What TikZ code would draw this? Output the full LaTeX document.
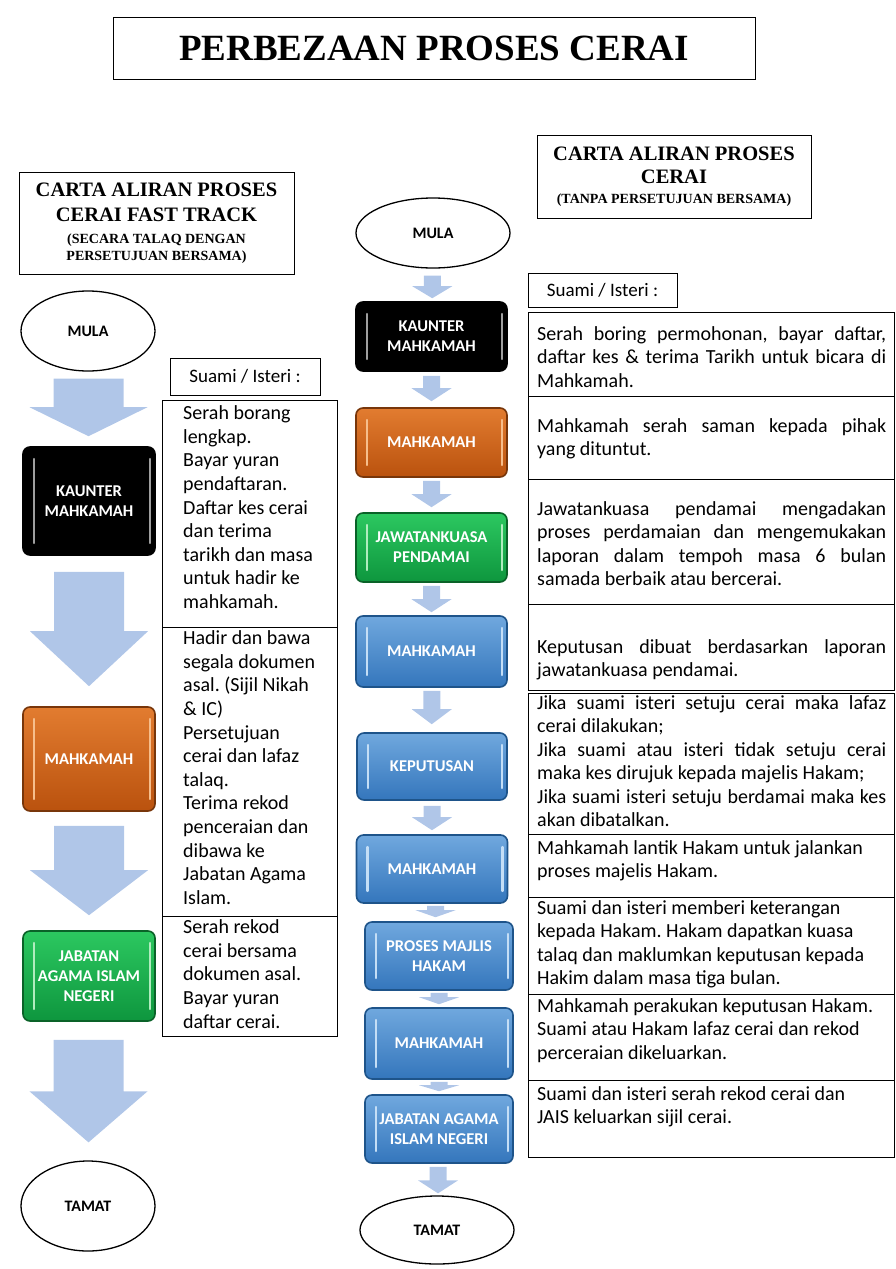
\documentclass[tikz,border=0pt]{standalone}
\usepackage{fontspec}
\setmainfont{Carlito}
\newfontfamily\titlefont{Liberation Serif}
\usetikzlibrary{calc,shapes.geometric}
\frenchspacing

\definecolor{arrowblue}{RGB}{176,198,232}
\definecolor{orangetop}{RGB}{226,124,48}
\definecolor{orangebot}{RGB}{186,82,14}
\definecolor{orangeedge}{RGB}{120,54,10}
\definecolor{orangerim}{RGB}{246,190,140}
\definecolor{greentop}{RGB}{44,200,96}
\definecolor{greenbot}{RGB}{14,150,62}
\definecolor{greenedge}{RGB}{10,98,40}
\definecolor{greenrim}{RGB}{176,236,190}
\definecolor{bluetop}{RGB}{112,168,222}
\definecolor{bluebot}{RGB}{52,118,188}
\definecolor{blueedge}{RGB}{30,84,138}
\definecolor{bluerim}{RGB}{196,222,246}

% block arrow between two nodes: from, to, gap below, gap above, half shaft, half head, head length
\newcommand{\blockarrow}[7]{%
  \fill[flowarrow] let \p1=([yshift=-#3]#1.south), \p2=([yshift=#4]#2.north),
    \p3=($(\p1)!0.5!(\p2)$) in
    (\x3-#5,\y1) -- (\x3+#5,\y1) -- (\x3+#5,\y2+#7) -- (\x3+#6,\y2+#7)
    -- (\x3,\y2) -- (\x3-#6,\y2+#7) -- (\x3-#5,\y2+#7) -- cycle;}

\begin{document}
\begin{tikzpicture}[x=1pt, y=-1pt,
  frame/.style={draw, line width=1pt, inner sep=0pt},
  headbox/.style={frame, align=center, font=\titlefont\bfseries\fontsize{20.5}{24}\selectfont},
  terminal/.style={draw, ellipse, line width=1.3pt, fill=white, inner sep=0pt,
    font=\bfseries\fontsize{16}{18}\selectfont},
  procbox/.style 2 args={rounded corners=7pt, line width=1.6pt, inner sep=0pt,
    minimum width=#1, minimum height=#2, text=white, align=center,
    font=\bfseries\fontsize{16.5}{20}\selectfont},
  rim/.style={path picture={
    \draw[#1, line width=2.2pt, line cap=round]
      ([xshift=11pt,yshift=-12pt]path picture bounding box.north west)
      -- ([xshift=11pt,yshift=12pt]path picture bounding box.south west);
    \draw[#1, line width=2.2pt, line cap=round]
      ([xshift=-5pt,yshift=-12pt]path picture bounding box.north east)
      -- ([xshift=-5pt,yshift=12pt]path picture bounding box.south east);}},
  blackbox/.style={fill=black, draw=black, rim=gray!75},
  orangebox/.style={top color=orangetop, bottom color=orangebot, draw=orangeedge, rim=orangerim},
  greenbox/.style={top color=greentop, bottom color=greenbot, draw=greenedge, rim=greenrim},
  bluebox/.style={top color=bluetop, bottom color=bluebot, draw=blueedge, rim=bluerim},
  flowarrow/.style={fill=arrowblue},
  labelbox/.style={frame, font=\fontsize{19}{22}\selectfont},
  bodytext/.style={inner sep=0pt, anchor=north west, font=\fontsize{20}{23.5}\selectfont,
    execute at begin node={\parindent=0pt\strut}},
  lefttext/.style={bodytext, text width=152pt, align=flush left, font=\fontsize{20}{23.6}\selectfont},
  righttext/.style={bodytext, text width=349pt}]
\useasboundingbox (0,0) rectangle (896,1269);

% title
\node[frame, minimum width=642pt, minimum height=62pt,
  font=\titlefont\bfseries\fontsize{37}{40}\selectfont] (title) at (434,48) {PERBEZAAN PROSES CERAI};

% chart headings
\node[headbox, minimum width=275pt, minimum height=102pt] (lhead) at (156.5,223)
  {CARTA ALIRAN PROSES\\[1pt]CERAI FAST TRACK\\[-2pt]{\fontsize{14}{16}\selectfont(SECARA TALAQ DENGAN}\\[-7pt]{\fontsize{14}{16}\selectfont PERSETUJUAN BERSAMA)}};
\node[headbox, minimum width=274pt, minimum height=83pt] (rhead) at (674,176.5)
  {CARTA ALIRAN PROSES\\[-1pt]CERAI\\[-4pt]{\fontsize{14}{16}\selectfont(TANPA PERSETUJUAN BERSAMA)}};

% fast track chart
\node[terminal, minimum width=134pt, minimum height=80pt] (lmula) at (88,331) {MULA};
\node[procbox={132pt}{108pt}, blackbox] (lkaunter) at (89,501) {KAUNTER\\MAHKAMAH};
\node[procbox={132pt}{104pt}, orangebox] (lmahkamah) at (89,759) {MAHKAMAH};
\node[procbox={132pt}{90pt}, greenbox] (ljabatan) at (89,976) {JABATAN\\AGAMA ISLAM\\NEGERI};
\node[terminal, minimum width=134pt, minimum height=90pt] (ltamat) at (88,1206) {TAMAT};
\blockarrow{lmula}{lkaunter}{7pt}{10pt}{35pt}{59pt}{29pt}
\blockarrow{lkaunter}{lmahkamah}{16pt}{20pt}{35pt}{59pt}{55pt}
\blockarrow{lmahkamah}{ljabatan}{14pt}{15pt}{35pt}{59pt}{45pt}
\blockarrow{ljabatan}{ltamat}{18pt}{18pt}{35pt}{59pt}{51pt}

% fast track steps
\node[labelbox, minimum width=150pt, minimum height=37pt] (lsuami) at (245,376.5) {Suami / Isteri :};
\node[frame, minimum width=175pt, minimum height=227pt] (lsec1) at (249.5,513.5) {};
\node[frame, minimum width=175pt, minimum height=289pt] (lsec2) at (249.5,771.5) {};
\node[frame, minimum width=175pt, minimum height=120pt] (lsec3) at (249.5,976) {};
\node[lefttext] (ltext1) at (183,403) {Serah borang\\lengkap.\\Bayar yuran\\pendaftaran.\\Daftar kes cerai\\dan terima\\tarikh dan masa\\untuk hadir ke\\mahkamah.};
\node[lefttext] (ltext2) at (183,628) {Hadir dan bawa\\segala dokumen\\asal. (Sijil Nikah\\\& IC)\\Persetujuan\\cerai dan lafaz\\talaq.\\Terima rekod\\penceraian dan\\dibawa ke\\Jabatan Agama\\Islam.};
\node[lefttext] (ltext3) at (183,917) {Serah rekod\\cerai bersama\\dokumen asal.\\Bayar yuran\\daftar cerai.};

% chart without mutual consent
\node[terminal, minimum width=154pt, minimum height=70pt] (mmula) at (433,233) {MULA};
\node[procbox={151pt}{69pt}, blackbox] (mkaunter) at (431.5,336.5) {KAUNTER\\MAHKAMAH};
\node[procbox={151pt}{69pt}, orangebox] (mmahkamah1) at (431.5,442.5) {MAHKAMAH};
\node[procbox={151pt}{69pt}, greenbox] (mpendamai) at (431.5,547.5) {JAWATANKUASA\\PENDAMAI};
\node[procbox={151pt}{71pt}, bluebox] (mmahkamah2) at (431.5,651.5) {MAHKAMAH};
\node[procbox={150pt}{67pt}, bluebox] (mkeputusan) at (432,766.5) {KEPUTUSAN};
\node[procbox={151pt}{68pt}, bluebox] (mmahkamah3) at (432,869) {MAHKAMAH};
\node[procbox={148pt}{68pt}, bluebox] (mhakam) at (439,956) {PROSES MAJLIS\\HAKAM};
\node[procbox={148pt}{71pt}, bluebox] (mmahkamah4) at (439,1043.5) {MAHKAMAH};
\node[procbox={148pt}{68pt}, bluebox] (mjabatan) at (439,1129) {JABATAN AGAMA\\ISLAM NEGERI};
\node[terminal, minimum width=154pt, minimum height=68pt] (mtamat) at (437,1230) {TAMAT};
\blockarrow{mmula}{mkaunter}{7pt}{3pt}{8.5pt}{20pt}{12pt}
\blockarrow{mkaunter}{mmahkamah1}{4pt}{6pt}{8.5pt}{20pt}{13pt}
\blockarrow{mmahkamah1}{mpendamai}{3pt}{5pt}{8.5pt}{20pt}{13pt}
\blockarrow{mpendamai}{mmahkamah2}{3pt}{3pt}{8.5pt}{20pt}{13pt}
\blockarrow{mmahkamah2}{mkeputusan}{3pt}{8pt}{8.5pt}{20pt}{15pt}
\blockarrow{mkeputusan}{mmahkamah3}{5pt}{4pt}{8.5pt}{20pt}{13pt}
\blockarrow{mmahkamah3}{mhakam}{2pt}{4pt}{8.5pt}{20pt}{7pt}
\blockarrow{mhakam}{mmahkamah4}{2pt}{3pt}{8.5pt}{20pt}{7pt}
\blockarrow{mmahkamah4}{mjabatan}{2pt}{3pt}{8.5pt}{20pt}{6pt}
\blockarrow{mjabatan}{mtamat}{3pt}{2pt}{8.5pt}{20pt}{13pt}

% steps without mutual consent
\node[labelbox, minimum width=149pt, minimum height=34pt] (rsuami) at (602.5,290) {Suami / Isteri :};
\node[frame, minimum width=366pt, minimum height=84pt] (rsec1) at (711,354) {};
\node[frame, minimum width=366pt, minimum height=83pt] (rsec2) at (711,437.5) {};
\node[frame, minimum width=366pt, minimum height=125pt] (rsec3) at (711,541.5) {};
\node[frame, minimum width=366pt, minimum height=86pt] (rsec4) at (711,647) {};
\node[frame, minimum width=366pt, minimum height=141pt] (rsec5) at (711,763.5) {};
\node[frame, minimum width=366pt, minimum height=63pt] (rsec6) at (711,865.5) {};
\node[frame, minimum width=366pt, minimum height=97pt] (rsec7) at (711,945.5) {};
\node[frame, minimum width=366pt, minimum height=86pt] (rsec8) at (711,1037) {};
\node[frame, minimum width=366pt, minimum height=77pt] (rsec9) at (711,1118.5) {};
\node[righttext, align=justify] (rtext1) at (537,323.6) {Serah boring permohonan, bayar daftar,\linebreak daftar kes \& terima Tarikh untuk bicara di\linebreak Mahkamah.};
\node[righttext, align=justify] (rtext2) at (537,415.6) {Mahkamah serah saman kepada pihak\linebreak yang dituntut.};
\node[righttext, align=justify] (rtext3) at (537,498.6) {Jawatankuasa pendamai mengadakan\linebreak proses perdamaian dan mengemukakan\linebreak laporan dalam tempoh masa 6 bulan\linebreak samada berbaik atau bercerai.};
\node[righttext, align=justify] (rtext4) at (537,636.6) {Keputusan dibuat berdasarkan laporan\linebreak jawatankuasa pendamai.};
\node[righttext, align=justify] (rtext5) at (537,692.6) {Jika suami isteri setuju cerai maka lafaz\linebreak cerai dilakukan;\par Jika suami atau isteri tidak setuju cerai\linebreak maka kes dirujuk kepada majelis Hakam;\par Jika suami isteri setuju berdamai maka kes\linebreak akan dibatalkan.};
\node[righttext, align=flush left] (rtext6) at (537,837.6) {Mahkamah lantik Hakam untuk jalankan\\proses majelis Hakam.};
\node[righttext, align=flush left] (rtext7) at (537,897.6) {Suami dan isteri memberi keterangan\\kepada Hakam. Hakam dapatkan kuasa\\talaq dan maklumkan keputusan kepada\\Hakim dalam masa tiga bulan.};
\node[righttext, align=flush left] (rtext8) at (537,995.6) {Mahkamah perakukan keputusan Hakam.\\Suami atau Hakam lafaz cerai dan rekod\\perceraian dikeluarkan.};
\node[righttext, align=flush left] (rtext9) at (537,1083.6) {Suami dan isteri serah rekod cerai dan\\JAIS keluarkan sijil cerai.};
\end{tikzpicture}
\end{document}
